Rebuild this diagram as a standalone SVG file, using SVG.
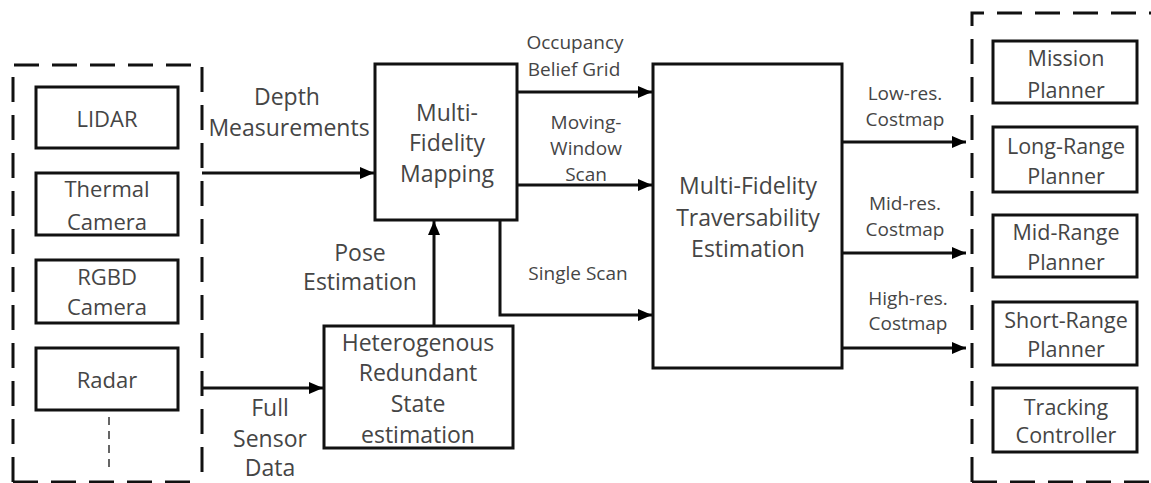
<svg xmlns="http://www.w3.org/2000/svg" width="1151" height="483" viewBox="0 0 1151 483">
<defs>
<marker id="ah" markerWidth="14" markerHeight="12" refX="14" refY="6" orient="auto" markerUnits="userSpaceOnUse">
<path d="M0,0 L14,6 L0,12 Z" fill="#000"/>
</marker>
<style>
.box{fill:#fff;stroke:#111;stroke-width:3}
.dash{fill:none;stroke:#111;stroke-width:3;stroke-dasharray:25 13}
.ln{fill:none;stroke:#111;stroke-width:3}
text{font-family:"Open Sans","Liberation Sans",sans-serif;font-size:23px;fill:#454545;text-anchor:middle;dominant-baseline:central}
.s{font-size:22px}
.p{font-size:21.5px}
.l{font-size:19px}
</style>
</defs>
<rect width="1151" height="483" fill="#fff"/>
<g id="sensors">
<path class="dash" d="M13,482 L13,65 L202,65 L202,482 M13,482 L202,482"/>
<line x1="109" y1="417" x2="109" y2="470" stroke="#333" stroke-width="1.5" stroke-dasharray="8 6"/>
</g>
<g id="lidar"><rect class="box" x="36" y="87" width="142" height="61"/><text class="s" x="107" y="118">LIDAR</text></g>
<g id="thermal"><rect class="box" x="36" y="173" width="142" height="62"/><text class="s" x="107" y="188">Thermal</text><text class="s" x="107" y="221">Camera</text></g>
<g id="rgbd"><rect class="box" x="36" y="260" width="142" height="63"/><text class="s" x="107" y="276">RGBD</text><text class="s" x="107" y="306">Camera</text></g>
<g id="radar"><rect class="box" x="36" y="348" width="142" height="62"/><text class="s" x="107" y="379">Radar</text></g>
<g id="mapping"><rect class="box" x="375" y="64" width="142" height="156"/><text x="447" y="112">Multi-</text><text x="447" y="142">Fidelity</text><text x="447" y="173">Mapping</text></g>
<g id="hrs"><rect class="box" x="324" y="326" width="189" height="122"/><text x="418" y="342">Heterogenous</text><text x="418" y="372">Redundant</text><text x="418" y="403">State</text><text x="418" y="434">estimation</text></g>
<g id="trav"><rect class="box" x="653" y="64" width="189" height="304"/><text x="748" y="185">Multi-Fidelity</text><text x="748" y="217">Traversability</text><text x="748" y="248">Estimation</text></g>
<g id="planners"><path class="dash" d="M972,482 L972,13 L1151,13 M972,482 L1151,482"/></g>
<g id="mission"><rect class="box" x="993" y="41" width="144" height="62"/><text class="p" x="1066" y="57">Mission</text><text class="p" x="1066" y="89">Planner</text></g>
<g id="longrange"><rect class="box" x="993" y="127" width="144" height="65"/><text class="p" x="1066" y="145">Long-Range</text><text class="p" x="1066" y="175">Planner</text></g>
<g id="midrange"><rect class="box" x="993" y="215" width="144" height="62"/><text class="p" x="1066" y="231">Mid-Range</text><text class="p" x="1066" y="261">Planner</text></g>
<g id="shortrange"><rect class="box" x="993" y="302" width="144" height="63"/><text class="p" x="1066" y="319">Short-Range</text><text class="p" x="1066" y="348">Planner</text></g>
<g id="tracking"><rect class="box" x="993" y="388" width="144" height="64"/><text class="p" x="1066" y="406">Tracking</text><text class="p" x="1066" y="434">Controller</text></g>
<g id="connectors">
<line class="ln" x1="202" y1="173" x2="374" y2="173" marker-end="url(#ah)"/>
<line class="ln" x1="202" y1="388" x2="323" y2="388" marker-end="url(#ah)"/>
<line class="ln" x1="434" y1="325" x2="434" y2="221" marker-end="url(#ah)"/>
<line class="ln" x1="517" y1="92" x2="652" y2="92" marker-end="url(#ah)"/>
<line class="ln" x1="517" y1="185" x2="652" y2="185" marker-end="url(#ah)"/>
<path class="ln" d="M500,220 L500,315 L652,315" marker-end="url(#ah)"/>
<line class="ln" x1="842" y1="142" x2="966" y2="142" marker-end="url(#ah)"/>
<line class="ln" x1="842" y1="253" x2="966" y2="253" marker-end="url(#ah)"/>
<line class="ln" x1="842" y1="348" x2="966" y2="348" marker-end="url(#ah)"/>
<text x="287" y="96">Depth</text><text x="289" y="127">Measurements</text>
<text x="360" y="252">Pose</text><text x="360" y="281">Estimation</text>
<text x="270" y="407">Full</text><text x="270" y="438">Sensor</text><text x="270" y="467">Data</text>
<text class="l" x="575" y="42">Occupancy</text><text class="l" x="574" y="69">Belief Grid</text>
<text class="l" x="586" y="122">Moving-</text><text class="l" x="586" y="148">Window</text><text class="l" x="586" y="174">Scan</text>
<text class="l" x="578" y="273">Single Scan</text>
<text class="l" x="905" y="93">Low-res.</text><text class="l" x="905" y="119">Costmap</text>
<text class="l" x="905" y="203">Mid-res.</text><text class="l" x="905" y="229">Costmap</text>
<text class="l" x="908" y="298">High-res.</text><text class="l" x="908" y="323">Costmap</text>
</g>
</svg>
